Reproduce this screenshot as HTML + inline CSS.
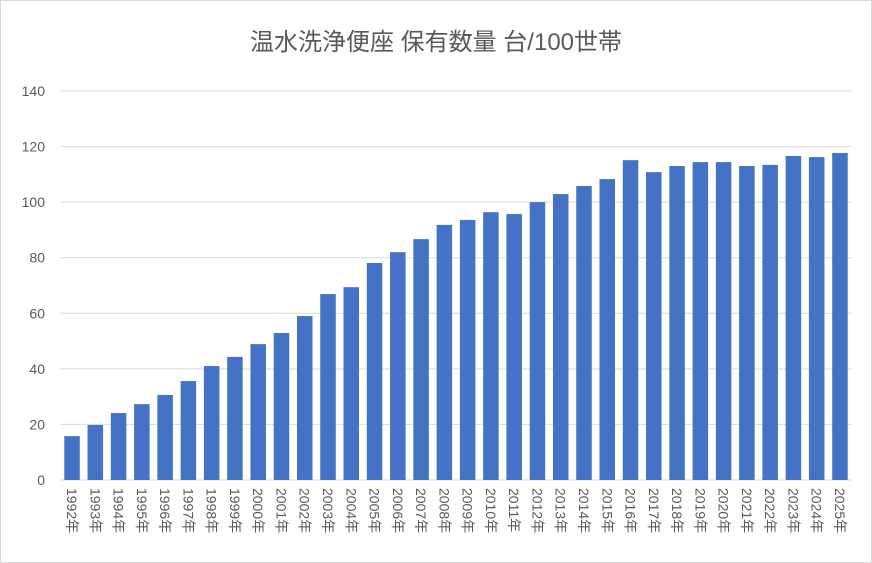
<!DOCTYPE html>
<html><head><meta charset="utf-8">
<style>
html,body{margin:0;padding:0;background:#fff;}
svg{display:block;font-family:"Liberation Sans","Noto Sans CJK JP",sans-serif;}
</style></head>
<body>
<svg id="chart" width="872" height="563">
<rect x="0.5" y="0.5" width="871" height="562" fill="#fff" stroke="#d9d9d9"/>
<text x="436" y="50" text-anchor="middle" font-size="24" fill="#595959">温水洗浄便座 保有数量 台/100世帯</text>
<g id="grid"></g><g id="bars"></g><g id="labels"></g>
</svg>
<script>
const categories=["1992年","1993年","1994年","1995年","1996年","1997年","1998年","1999年","2000年","2001年","2002年","2003年","2004年","2005年","2006年","2007年","2008年","2009年","2010年","2011年","2012年","2013年","2014年","2015年","2016年","2017年","2018年","2019年","2020年","2021年","2022年","2023年","2024年","2025年"];
const values=[15.8,19.8,24.1,27.3,30.6,35.6,41.0,44.3,48.9,52.9,59.0,66.9,69.4,78.1,82.0,86.7,91.8,93.6,96.4,95.7,100.0,102.9,105.8,108.3,115.1,110.8,113.0,114.4,114.4,113.0,113.4,116.6,116.2,117.7];
const yTicks=[0,20,40,60,80,100,120,140];
const NS="http://www.w3.org/2000/svg";
const x0=60.4,x1=851.6,y0=480,yTop=91,yMax=140;
const y=v=>y0-(v/yMax)*(y0-yTop);
const step=(x1-x0)/categories.length;
const xc=i=>x0+step*(i+0.5);
const grid=document.getElementById('grid'),bars=document.getElementById('bars'),labels=document.getElementById('labels');
yTicks.forEach(t=>{
  const l=document.createElementNS(NS,'line');
  l.setAttribute('x1',x0);l.setAttribute('x2',x1);l.setAttribute('y1',y(t));l.setAttribute('y2',y(t));
  l.setAttribute('stroke','#d9d9d9');l.setAttribute('stroke-width','1');
  
  
  grid.appendChild(l);
  const tx=document.createElementNS(NS,'text');
  tx.setAttribute('x',45);tx.setAttribute('y',y(t)+5);tx.setAttribute('text-anchor','end');
  tx.setAttribute('font-size','14');tx.setAttribute('fill','#595959');tx.textContent=t;
  
  
  labels.appendChild(tx);
});
values.forEach((v,i)=>{
  const r=document.createElementNS(NS,'rect');
  const w=15.5;
  r.setAttribute('x',xc(i)-w/2);r.setAttribute('y',y(v));r.setAttribute('width',w);r.setAttribute('height',y0-y(v));
  r.setAttribute('fill','#4472c4');
  
  
  bars.appendChild(r);
});
categories.forEach((c,i)=>{
  const tx=document.createElementNS(NS,'text');
  const cx=xc(i)-5,cy=488;
  tx.setAttribute('x',cx);tx.setAttribute('y',cy);
  tx.setAttribute('transform','rotate(90 '+cx+' '+cy+')');
  tx.setAttribute('font-size','14');tx.setAttribute('fill','#595959');tx.textContent=c;
  
  
  labels.appendChild(tx);
});
</script>
</body></html>
